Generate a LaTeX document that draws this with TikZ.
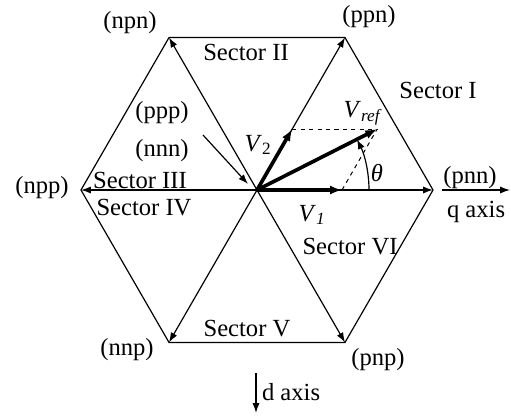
\documentclass[tikz,border=0pt]{standalone}
\usepackage{fontspec}
\setmainfont{Liberation Serif}
\usetikzlibrary{arrows.meta,calc}

\begin{document}
\begin{tikzpicture}[x=0.025cm, y=0.025cm, line width=0.85pt,
    every node/.style={font=\fontsize{17.5}{20}\selectfont, inner sep=1pt},
    spoke/.style={-{Latex[length=7pt,width=5pt]}},
    vecarrow/.style={line width=2.6pt, -{Latex[length=8.5pt,width=6.5pt]}},
    helper/.style={dashed, line width=0.7pt}]
    \useasboundingbox (-257,-227) rectangle (254,190);

    % hexagon and switching states
    \coordinate (O) at (0,0);
    \foreach \a/\n in {0/pnn,60/ppn,120/npn,180/npp,240/nnp,300/pnp}
      \coordinate (\n) at (\a:176);
    \draw (pnn) -- (ppn) -- (npn) -- (npp) -- (nnp) -- (pnp) -- cycle;
    \foreach \n in {pnn,ppn,npn,npp,nnp,pnp}
      \draw[spoke] (O) -- (\n);

    \node (lpnn) at (213,12) {(pnn)};
    \node (lppn) at (112,173) {(ppn)};
    \node (lnpn) at (-127,167) {(npn)};
    \node (lnpp) at (-215,2) {(npp)};
    \node (lnnp) at (-130,-160) {(nnp)};
    \node (lpnp) at (121,-170) {(pnp)};

    % zero vectors
    \node (lppp) at (-95,77) {(ppp)};
    \node (lnnn) at (-95,39) {(nnn)};
    \coordinate (zs) at (-54,55);
    \coordinate (zt) at (-9,6);
    \draw[spoke] (zs) -- (zt);

    % sectors
    \node (s1) at (181,100) {Sector I};
    \node (s2) at (-11,138) {Sector II};
    \node (s3) at (-117,10) {Sector III};
    \node (s4) at (-113,-18) {Sector IV};
    \node (s5) at (-10,-139) {Sector V};
    \node (s6) at (93,-57) {Sector VI};

    % reference vector
    \coordinate (v1) at (85,0);
    \coordinate (v2) at (60:70.4);
    \coordinate (vref) at ($(v1)+(v2)$);
    \draw[helper] (v2) -- (vref);
    \draw[helper] (v1) -- (vref);
    \draw[vecarrow] (O) -- (v1);
    \draw[vecarrow] (O) -- (v2);
    \draw[vecarrow] (O) -- (vref);
    \node (lv1) at (55,-25) {\textit{V}\textsubscript{\textit{1}}};
    \node (lv2) at (1,45) {\textit{V}\textsubscript{2}};
    \node (lvref) at (106,77) {\textit{V}\textsubscript{\textit{ref}}};

    % angle
    \coordinate (a0) at (112,0);
    \draw[spoke] (a0) arc[start angle=0, end angle=26.9, radius=112];
    \node (th) at (120,17) {\textit{θ}};

    % axes
    \coordinate (q0) at (185,0);
    \coordinate (q1) at (253,0);
    \draw[spoke] (q0) -- (q1);
    \node[anchor=west] (lq) at (188,-22) {q axis};
    \coordinate (d0) at (-1,-183);
    \coordinate (d1) at (-1,-223);
    \draw[spoke] (d0) -- (d1);
    \node[anchor=west] (ld) at (3,-202) {d axis};
\end{tikzpicture}
\end{document}
